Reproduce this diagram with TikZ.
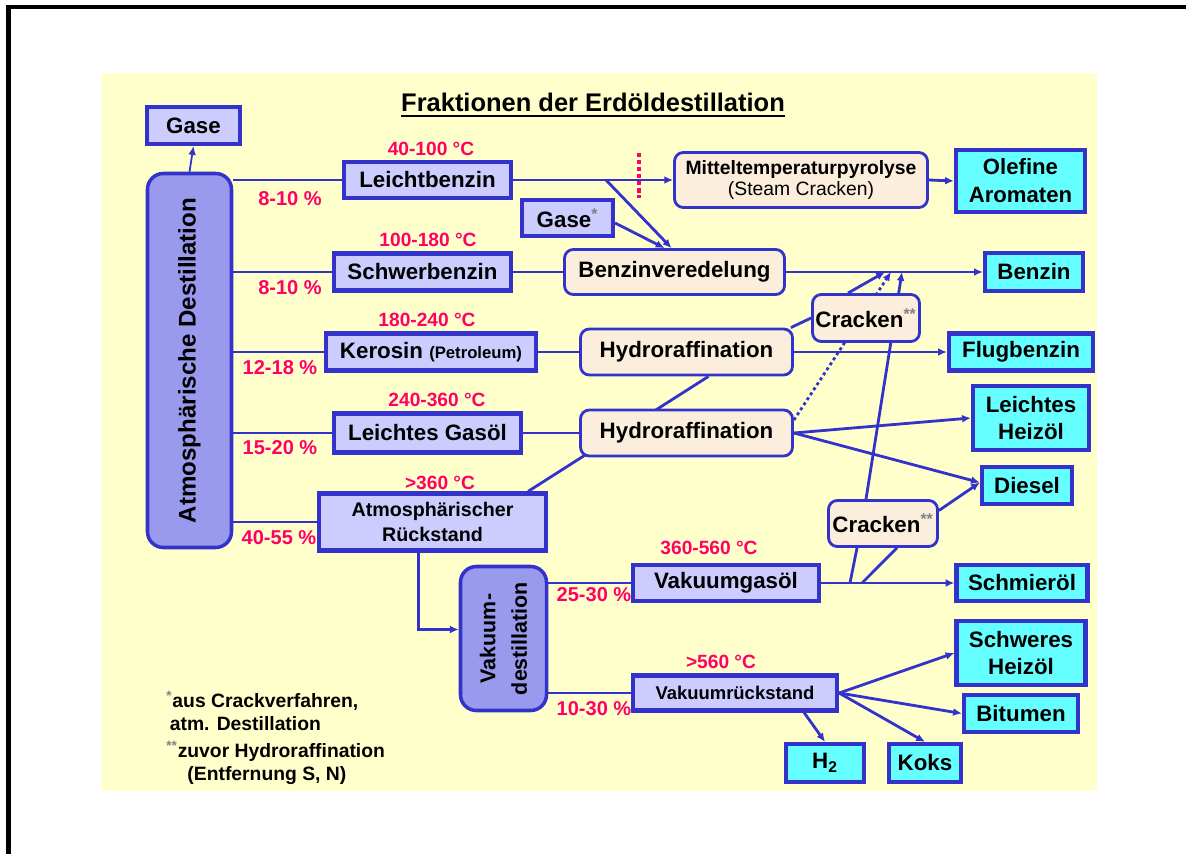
\documentclass[tikz,border=0pt]{standalone}
\usepackage{fontspec}
\setmainfont{Liberation Sans}
\usetikzlibrary{positioning, arrows.meta, calc}

\definecolor{boxblue}{HTML}{3333CC}
\definecolor{feedlilac}{HTML}{CCCCFF}
\definecolor{towerviolet}{HTML}{9999EE}
\definecolor{productcyan}{HTML}{66FFFF}
\definecolor{processbeige}{HTML}{FBEEDC}
\definecolor{tempred}{HTML}{FF0066}
\definecolor{paperyellow}{HTML}{FFFFCC}

\newcommand{\px}{0.02cm}
\newcommand{\stars}[1]{\textsuperscript{\textcolor{gray}{#1}}}

\pgfdeclarelayer{paper}
\pgfdeclarelayer{wires}
\pgfsetlayers{paper,wires,main}

\begin{document}
\begin{tikzpicture}[x=\px, y=-\px, >={Latex[length=5pt,width=4.5pt]},
  every node/.style={font=\bfseries\fontsize{12.7}{15.5}\selectfont, inner sep=0pt, align=center},
  wh/.style 2 args={minimum width=#1*\px, minimum height=#2*\px},
  feed/.style={rectangle, draw=boxblue, line width=2.4pt, fill=feedlilac},
  product/.style={rectangle, draw=boxblue, line width=2.4pt, fill=productcyan},
  process/.style={rectangle, rounded corners=5pt, draw=boxblue, line width=1.6pt, fill=processbeige},
  tower/.style={rectangle, rounded corners=9pt, draw=boxblue, line width=2pt, fill=towerviolet},
  temp/.style={text=tempred, font=\bfseries\fontsize{10.9}{13}\selectfont},
  share/.style={text=tempred, font=\bfseries\fontsize{11.4}{13}\selectfont},
  flow/.style={draw=boxblue, line width=1.6pt}]

  \useasboundingbox (0,0) rectangle (1186,854);

  % frame and paper
  \fill[black] (6,5) rectangle (1186,9.5);
  \fill[black] (6,5) rectangle (10.5,854);
  \begin{pgfonlayer}{paper}
    \fill[paperyellow] (102,73) rectangle (1097,791);
  \end{pgfonlayer}

  \node[font=\bfseries\fontsize{14.5}{17}\selectfont] (title) at (593,102) {Fraktionen der Erdöldestillation};
  \draw[line width=1.1pt] ($(title.south west)+(0,4)$) -- ($(title.south east)+(0,4)$);

  % columns
  \node[tower, wh={374}{84}, rotate=90, font=\bfseries\fontsize{13.7}{16}\selectfont] (atm) at (189.5,360.5)
    {Atmosphärische Destillation};
  \node[tower, wh={144}{86}, rotate=90, font=\bfseries\fontsize{12.2}{18}\selectfont] (vakdest) at (503.5,638.5)
    {Vakuum-\\destillation};

  % fractions
  \node[feed, wh={93}{37}] (gasetop) at (193.5,125.5) {Gase};
  \node[feed, wh={167}{36}] (leicht) at (427.5,180) {Leichtbenzin};
  \node[feed, wh={177}{37}] (schwer) at (422.5,272) {Schwerbenzin};
  \node[feed, wh={210}{37}] (kerosin) at (431,352)
    {Kerosin {\fontsize{9.5}{11}\selectfont(Petroleum)}};
  \node[feed, wh={187}{39}] (gasoel) at (427.5,433) {Leichtes Gasöl};
  \node[feed, wh={227}{57}, font=\bfseries\fontsize{11.2}{14.2}\selectfont] (rueck) at (432.5,522)
    {Atmosphärischer\\Rückstand};
  \node[feed, wh={91}{36}] (gasemid) at (567.5,218) {Gase\stars{*}};
  \node[feed, wh={186}{36}] (vakgas) at (726,583) {Vakuumgasöl};
  \node[feed, wh={204}{35}, font=\bfseries\fontsize{10.5}{12}\selectfont] (vakrueck) at (735,693)
    {Vakuumrückstand};

  % processes
  \node[process, wh={253}{55}, font=\fontsize{11}{12.5}\selectfont] (mittel) at (801,180)
    {\textbf{Mitteltemperaturpyrolyse}\\(Steam Cracken)};
  \node[process, wh={220}{45}] (benzinv) at (674.5,272) {Benzinveredelung};
  \node[process, wh={107}{47}] (crackA) at (866,318) {Cracken\stars{**}};
  \node[process, wh={212}{46}] (hydroA) at (686.5,352) {Hydroraffination};
  \node[process, wh={212}{46}] (hydroB) at (686.5,433) {Hydroraffination};
  \node[process, wh={109}{46}] (crackB) at (883,523.5) {Cracken\stars{**}};

  % products
  \node[product, wh={129}{62}, font=\bfseries\fontsize{12.6}{15.9}\selectfont] (olefine) at (1020.5,181)
    {Olefine\\Aromaten};
  \node[product, wh={98}{38}] (benzin) at (1034,272) {Benzin};
  \node[product, wh={144}{37}] (flug) at (1021,352) {Flugbenzin};
  \node[product, wh={116}{64}] (heizoel) at (1031,418) {Leichtes\\Heizöl};
  \node[product, wh={90}{37}] (diesel) at (1027,485.5) {Diesel};
  \node[product, wh={131}{36}] (schmier) at (1022,583) {Schmieröl};
  \node[product, wh={129}{64}] (schweres) at (1021,653) {Schweres\\Heizöl};
  \node[product, wh={114}{37}] (bitumen) at (1021,713.5) {Bitumen};
  \node[product, wh={78}{38}] (h2) at (825,763) {H\textsubscript{2}};
  \node[product, wh={72}{38}] (koks) at (925,763) {Koks};

  % temperatures and yields
  \node[temp] (t1) at (431,149) {40-100 °C};
  \node[temp] (t2) at (428,240) {100-180 °C};
  \node[temp] (t3) at (427,320) {180-240 °C};
  \node[temp] (t4) at (437,400) {240-360 °C};
  \node[temp] (t5) at (440,483) {>360 °C};
  \node[temp] (t6) at (709,548) {360-560 °C};
  \node[temp] (t7) at (721,662) {>560 °C};
  \node[share] (p1) at (290,199) {8-10 \%};
  \node[share] (p2) at (290,288) {8-10 \%};
  \node[share] (p3) at (280,368) {12-18 \%};
  \node[share] (p4) at (280,448) {15-20 \%};
  \node[share] (p5) at (279,538) {40-55 \%};
  \node[share] (p6) at (594,595) {25-30 \%};
  \node[share] (p7) at (594,709) {10-30 \%};

  % footnotes
  \node[anchor=north west, align=left, font=\bfseries\fontsize{11}{13}\selectfont] (note1) at (166,691)
    {\stars{*}aus Crackverfahren,\\\hspace*{2pt}atm. Destillation};
  \node[anchor=north west, align=left, font=\bfseries\fontsize{11}{13}\selectfont] (note2) at (166,741)
    {\stars{**}zuvor Hydroraffination\\\hspace*{12pt}(Entfernung S, N)};

  % junctions on the lines
  \coordinate (split1) at (606,180);
  \coordinate (join1) at (885,272);
  \coordinate (join2) at (891,272);
  \coordinate (join3) at (902,272);
  \coordinate (vsplit1) at (850,583);
  \coordinate (vsplit2) at (862,583);

  \begin{pgfonlayer}{wires}
    \draw[flow, line width=1pt, ->] (atm.east) -- (gasetop.south);
    \foreach \cut in {leicht, schwer, kerosin, gasoel, rueck}
      \draw[flow] (atm.south |- \cut.west) -- (\cut.west);
    \draw[flow, ->] (leicht.east) -- (mittel.west);
    \draw[flow, ->] (split1) -- ($(benzinv.north)+(-3,0)$);
    \draw[flow, ->] ($(gasemid.east)+(0,5)$) -- ($(benzinv.north)+(-10,0)$);
    \draw[flow, ->] (mittel.east) -- (olefine.west);
    \draw[flow] (schwer.east) -- (benzinv.west);
    \draw[flow, ->] (benzinv.east) -- (benzin.west);
    \draw[flow] (kerosin.east) -- (hydroA.west);
    \draw[flow, ->] (hydroA.east) -- (flug.west);
    \draw[flow] ($(hydroA.north east)+(-3,0)$) -- (crackA.west);
    \draw[flow, ->] ($(crackA.north)+(-18,0)$) -- (join1);
    \draw[flow, dash pattern=on 1.7pt off 1.7pt, ->] ($(hydroB.east)+(0,-13)$) -- (join2);
    \draw[flow, ->] ($(crackB.north)+(-17,0)$) -- (join3);
    \draw[flow] (gasoel.east) -- (hydroB.west);
    \draw[flow] ($(rueck.north east)+(-20,0)$) -- ($(hydroA.south)+(22,0)$);
    \draw[flow, ->] (hydroB.east) -- (heizoel.west);
    \draw[flow, ->] (hydroB.east) -- ($(diesel.west)+(0,-3)$);
    \draw[flow, ->] ($(crackB.east)+(0,-13)$) -- ($(diesel.west)+(0,-3)$);
    \draw[flow, ->] ([xshift=-8pt]rueck.south) |- ($(vakdest.north)+(0,-9)$);
    \draw[flow] (vakdest.south |- vakgas.west) -- (vakgas.west);
    \draw[flow] (vakdest.south |- vakrueck.west) -- (vakrueck.west);
    \draw[flow, ->] (vakgas.east) -- (schmier.west);
    \draw[flow] (vsplit1) -- ($(crackB.south)+(-26,0)$);
    \draw[flow] (vsplit2) -- ($(crackB.south)+(14,0)$);
    \draw[flow, ->] (vakrueck.east) -- (schweres.west);
    \draw[flow, ->] (vakrueck.east) -- (bitumen.west);
    \draw[flow, ->] (vakrueck.east) -- (koks.north);
    \draw[flow, ->] ($(vakrueck.south east)+(-35,0)$) -- (h2.north);
  \end{pgfonlayer}

  % steam cracker marker
  \draw[tempred, line width=2.3pt, dash pattern=on 2.5pt off 1.5pt] (639,153) -- (639,198);
\end{tikzpicture}
\end{document}
